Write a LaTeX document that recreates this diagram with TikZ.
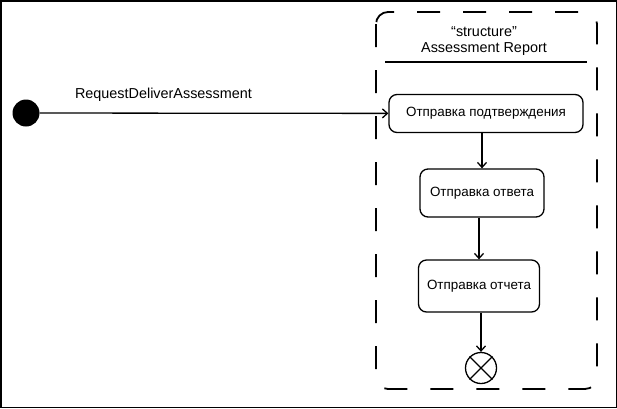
\documentclass[tikz,border=0pt]{standalone}
\usepackage{fontspec}
\setmainfont{Liberation Sans}
\usetikzlibrary{arrows.meta}
\tikzset{
  action/.style = {draw, rounded corners=8pt, minimum height=38pt, inner xsep=8pt, line width=1.3pt, font=\fontsize{13.4}{16}\selectfont},
  trans/.style = {line width=1.3pt, -{Straight Barb[length=5pt,width=9pt,line width=1.3pt]}},
}
\begin{document}
\begin{tikzpicture}[x=1pt, y=-1pt, font=\fontsize{14.4}{17}\selectfont]
  \useasboundingbox (0,0) rectangle (617,408);
  \draw[line width=1.5pt] (0.75,0.75) rectangle (616.25,407.25);
  % partition
  \draw[line width=1.8pt, dash pattern=on 23pt off 23pt, rounded corners=12pt] (376,12) rectangle (597,389);
  \node (stereo) at (484,32) {“structure”};
  \node (title) at (484,49) {Assessment Report};
  \draw[line width=1.8pt] (385,62) -- (587,62);
  % states
  \node[circle, fill=black, minimum size=27pt, inner sep=0pt] (init) at (26,113) {};
  \node[action, minimum width=194pt] (confirm) at (486,113.5) {Отправка подтверждения};
  \node[action, minimum width=124pt, minimum height=48pt] (answer) at (482,193) {Отправка ответа};
  \node[action, minimum width=121pt, minimum height=52pt] (report) at (479,286) {Отправка отчета};
  \node[circle, draw, line width=1.3pt, minimum size=31pt, inner sep=0pt] (fin) at (481,368) {};
  \draw[line width=1.3pt] (fin.45) -- (fin.225) (fin.135) -- (fin.315);
  % transitions
  \draw[trans] (init) -- node[pos=0.355, above=8pt] (evt) {RequestDeliverAssessment} (confirm);
  \draw[trans] (confirm.south -| answer) -- (answer);
  \draw[trans] (answer.south -| report) -- (report);
  \draw[trans] (report.south -| fin) -- (fin);
\end{tikzpicture}
\end{document}
